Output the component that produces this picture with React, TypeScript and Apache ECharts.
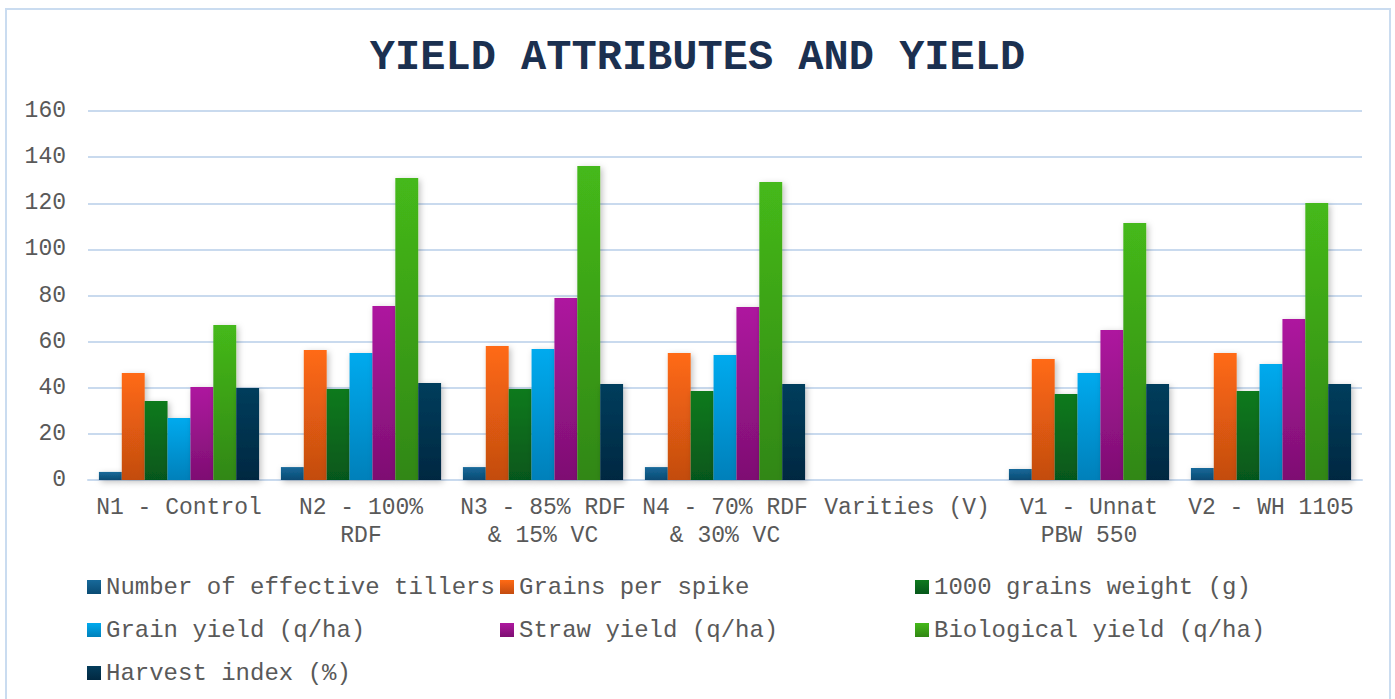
import React, { useEffect, useRef } from "react";
import * as echarts from "echarts";

const categories = [
  "N1 - Control",
  "N2 - 100%\nRDF",
  "N3 - 85% RDF\n& 15% VC",
  "N4 - 70% RDF\n& 30% VC",
  "Varities (V)",
  "V1 - Unnat\nPBW 550",
  "V2 - WH 1105",
];

const seriesNames = [
  "Number of effective tillers",
  "Grains per spike",
  "1000 grains weight (g)",
  "Grain yield (q/ha)",
  "Straw yield (q/ha)",
  "Biological yield (q/ha)",
  "Harvest index (%)",
];

const tillers = [3.5, 5.6, 5.6, 5.6, null, 4.8, 5.2];
const grainsPerSpike = [46.4, 56.4, 58.1, 55.1, null, 52.5, 55.1];
const grainWeight = [34.3, 39.5, 39.5, 38.6, null, 37.3, 38.6];
const grainYield = [26.9, 55.1, 56.8, 54.2, null, 46.4, 50.3];
const strawYield = [40.3, 75.5, 78.9, 75.0, null, 65.0, 69.8];
const bioYield = [67.2, 131.0, 136.2, 129.2, null, 111.4, 120.1];
const harvestIndex = [39.9, 42.1, 41.6, 41.6, null, 41.6, 41.6];

const seriesValues = [tillers, grainsPerSpike, grainWeight, grainYield, strawYield, bioYield, harvestIndex];

const colorPairs: [string, string][] = [
  ["#17699A", "#0A4B73"],
  ["#FF6A14", "#C34C10"],
  ["#0F7A1E", "#06571A"],
  ["#00AAEE", "#0080BA"],
  ["#AE189F", "#7E0F72"],
  ["#45B91A", "#318714"],
  ["#043D5C", "#012841"],
];

const yTicks = { min: 0, max: 160, interval: 20 };

export default function App() {
  const ref = useRef<HTMLDivElement>(null);
  useEffect(() => {
    if (!ref.current) return;
    const chart = echarts.init(ref.current, undefined, { renderer: "svg" });
    const font = "'Liberation Mono', 'Courier New', monospace";
    const grad = (i: number) =>
      new echarts.graphic.LinearGradient(0, 0, 0, 1, [
        { offset: 0, color: colorPairs[i][0] },
        { offset: 1, color: colorPairs[i][1] },
      ]);
    const legendText = { fontFamily: font, fontSize: 24, color: "#595959" };
    const mkLegend = (names: string[], left: number) => ({
      data: names,
      left,
      top: 575,
      padding: 0,
      orient: "vertical",
      itemWidth: 14,
      itemHeight: 14,
      itemGap: 19,
      icon: "rect",
      textStyle: legendText,
      selectedMode: false,
    });
    chart.setOption({
      animation: false,
      backgroundColor: "#ffffff",
      title: {
        text: "YIELD ATTRIBUTES AND YIELD",
        left: "center",
        top: 32,
        textStyle: { fontFamily: font, fontSize: 42, fontWeight: "bold", color: "#1B3050" },
      },
      graphic: [
        {
          type: "rect",
          shape: { x: 6, y: 9, width: 1384, height: 700 },
          style: { fill: "none", stroke: "#CADCF0", lineWidth: 2 },
          silent: true,
        },
      ],
      legend: [
        mkLegend([seriesNames[0], seriesNames[3], seriesNames[6]], 87),
        mkLegend([seriesNames[1], seriesNames[4]], 500),
        mkLegend([seriesNames[2], seriesNames[5]], 915),
      ],
      grid: { left: 88, right: 33, top: 111, bottom: 219 },
      xAxis: {
        type: "category",
        data: categories,
        axisLine: { lineStyle: { color: "#C9DAEE", width: 2 } },
        axisTick: { show: false },
        axisLabel: {
          interval: 0,
          fontFamily: font,
          fontSize: 23,
          lineHeight: 28,
          color: "#595959",
          margin: 14,
        },
      },
      yAxis: {
        type: "value",
        min: yTicks.min,
        max: yTicks.max,
        interval: yTicks.interval,
        axisLine: { show: false },
        axisTick: { show: false },
        splitLine: { lineStyle: { color: "#C9DAEE", width: 2 } },
        axisLabel: { fontFamily: font, fontSize: 23, color: "#595959", margin: 22 },
      },
      series: seriesNames.map((name, i) => ({
        name,
        type: "bar",
        data: seriesValues[i],
        barGap: "0%",
        barCategoryGap: "12%",
        itemStyle: {
          color: grad(i),
          shadowBlur: 6,
          shadowColor: "rgba(0,0,0,0.25)",
          shadowOffsetX: 2,
          shadowOffsetY: 2,
        },
      })),
    });
    return () => chart.dispose();
  }, []);
  return (
    <div
      ref={ref}
      style={{ position: "absolute", left: 0, top: 0, width: 1395, height: 699 }}
    />
  );
}
